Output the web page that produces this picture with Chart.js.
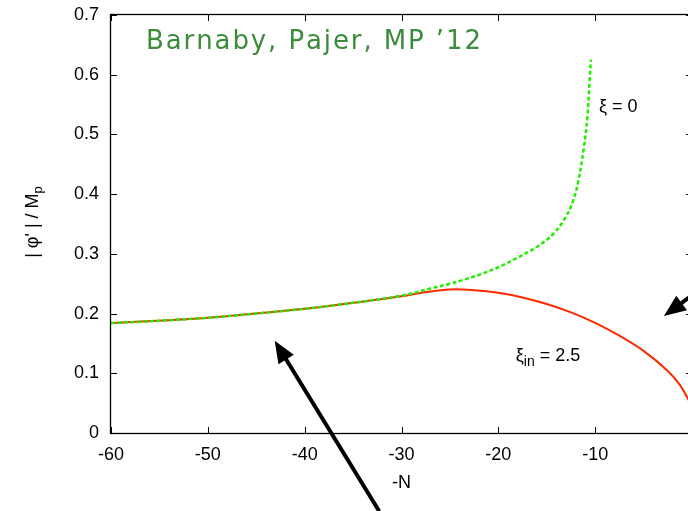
<!DOCTYPE html>
<html>
<head>
<meta charset="utf-8">
<script src="https://cdn.jsdelivr.net/npm/chart.js@4"></script>
<style>
  html, body { margin: 0; padding: 0; background: #fff; overflow: hidden; }
  #wrap { width: 720px; height: 511px; }
</style>
</head>
<body>
<div id="wrap"><canvas id="chart" width="720" height="511"></canvas></div>
<script>
// -N on the x axis, |phi'| / M_p on the y axis
const xTicks = [-60, -50, -40, -30, -20, -10, 0];
const yTicks = [0, 0.1, 0.2, 0.3, 0.4, 0.5, 0.6, 0.7];

// xi = 0 (dashed green)
const xiZeroN = [-60, -55, -50, -45, -40, -35, -30, -27, -25, -23.7, -21.8, -19.8, -18.1, -16.0, -14.3, -13.1, -12.3, -11.79, -11.2, -10.8, -10.59, -10.44];
const xiZeroPhi = [0.184, 0.188, 0.193, 0.200, 0.208, 0.218, 0.230, 0.242, 0.250, 0.256, 0.266, 0.279, 0.293, 0.312, 0.334, 0.360, 0.388, 0.418, 0.474, 0.530, 0.586, 0.625];

// xi_in = 2.5 (solid red)
const xiInN = [-60, -50, -40, -35, -30, -27.5, -25, -22.5, -20, -17.5, -15, -12.5, -10, -7.5, -5, -2.5, -1.25, 0];
const xiInPhi = [0.184, 0.193, 0.208, 0.218, 0.229, 0.236, 0.2405, 0.2392, 0.2348, 0.227, 0.216, 0.202, 0.1845, 0.163, 0.1375, 0.104, 0.0805, 0.045];

const toPoints = (xs, ys) => xs.map((x, i) => ({ x: x, y: ys[i] }));

const tickFont = { family: '"Liberation Sans", Arial, sans-serif', size: 18 };

// text with extra spacing between glyphs
function spacedText(ctx, text, x, y, width) {
    const chars = [...text];
    const natural = chars.reduce((s, c) => s + ctx.measureText(c).width, 0);
    const gap = (width - natural) / (chars.length - 1);
    chars.forEach(c => {
        ctx.fillText(c, x, y);
        x += ctx.measureText(c).width + gap;
    });
}

// frame, inward tick marks, labels and arrows in gnuplot style
const decorations = {
    id: 'decorations',
    afterDatasetsDraw(chart) {
        const ctx = chart.ctx;
        const a = chart.chartArea;
        const xs = chart.scales.x;
        const ys = chart.scales.y;
        ctx.save();

        ctx.strokeStyle = '#000';
        ctx.lineWidth = 1.3;
        ctx.strokeRect(a.left - 0.5, a.top - 0.5, a.right - a.left + 1, a.bottom - a.top + 1);

        ctx.lineWidth = 1;
        const tl = 6;
        xTicks.forEach(v => {
            const px = Math.round(xs.getPixelForValue(v)) + 0.5;
            ctx.beginPath();
            ctx.moveTo(px, a.bottom); ctx.lineTo(px, a.bottom - tl);
            ctx.moveTo(px, a.top); ctx.lineTo(px, a.top + tl);
            ctx.stroke();
        });
        yTicks.forEach(v => {
            const py = Math.round(ys.getPixelForValue(v)) + 0.5;
            ctx.beginPath();
            ctx.moveTo(a.left, py); ctx.lineTo(a.left + tl, py);
            ctx.moveTo(a.right, py); ctx.lineTo(a.right - tl, py);
            ctx.stroke();
        });

        const sans = '"Liberation Sans", Arial, sans-serif';

        // citation
        ctx.fillStyle = '#3d8b3d';
        ctx.font = '26px "DejaVu Sans", sans-serif';
        ctx.textAlign = 'left';
        ctx.textBaseline = 'alphabetic';
        spacedText(ctx, 'Barnaby, Pajer, MP \u201912', a.left + 35, a.top + 34, 335);

        ctx.fillStyle = '#000';

        // curve labels
        ctx.font = '18px ' + sans;
        ctx.fillText('\u03be = 0', xs.getPixelForValue(-9.6), ys.getPixelForValue(0.538));
        let lx = xs.getPixelForValue(-18.2);
        const ly = ys.getPixelForValue(0.12);
        ctx.fillText('\u03be', lx, ly);
        lx += ctx.measureText('\u03be').width;
        ctx.font = '14px ' + sans;
        ctx.fillText('in', lx, ly + 5);
        lx += ctx.measureText('in').width;
        ctx.font = '18px ' + sans;
        ctx.fillText(' = 2.5', lx, ly);

        // x title
        ctx.textAlign = 'center';
        ctx.textBaseline = 'middle';
        ctx.fillText('-N', (a.left + a.right) / 2, 483);

        // y title, rotated, with subscript p
        ctx.save();
        ctx.translate(32, (a.top + a.bottom) / 2 - 2);
        ctx.rotate(-Math.PI / 2);
        ctx.textAlign = 'left';
        ctx.textBaseline = 'alphabetic';
        const main = '| \u03c6\' | / M';
        ctx.font = '18px ' + sans;
        const wMain = ctx.measureText(main).width;
        ctx.font = '13px ' + sans;
        const wSub = ctx.measureText('p').width;
        const x0 = -(wMain + wSub) / 2;
        ctx.font = '18px ' + sans;
        ctx.fillText(main, x0, 6);
        ctx.font = '13px ' + sans;
        ctx.fillText('p', x0 + wMain, 10);
        ctx.restore();

        // arrows
        const arrow = (x1, y1, x2, y2) => {
            const p1 = { x: xs.getPixelForValue(x1), y: ys.getPixelForValue(y1) };
            const p2 = { x: xs.getPixelForValue(x2), y: ys.getPixelForValue(y2) };
            const ang = Math.atan2(p2.y - p1.y, p2.x - p1.x);
            const len = 22, half = 9;
            const bx = p2.x - len * Math.cos(ang), by = p2.y - len * Math.sin(ang);
            ctx.strokeStyle = '#000';
            ctx.lineWidth = 4;
            ctx.beginPath();
            ctx.moveTo(p1.x, p1.y);
            ctx.lineTo(bx + 4 * Math.cos(ang), by + 4 * Math.sin(ang));
            ctx.stroke();
            ctx.beginPath();
            ctx.moveTo(p2.x, p2.y);
            ctx.lineTo(bx + half * Math.sin(ang), by - half * Math.cos(ang));
            ctx.lineTo(bx - half * Math.sin(ang), by + half * Math.cos(ang));
            ctx.closePath();
            ctx.fill();
        };
        arrow(-32.3, -0.131, -43.1, 0.1546);
        arrow(1.2, 0.245, -2.9, 0.196);

        ctx.restore();
    }
};

new Chart(document.getElementById('chart'), {
    type: 'line',
    data: {
        datasets: [{
            label: '\u03be = 0',
            data: toPoints(xiZeroN, xiZeroPhi),
            borderColor: '#22ee00',
            borderWidth: 2.5,
            borderDash: [4, 2.5],
            tension: 0.4,
            pointRadius: 0,
            fill: false
        }, {
            label: '\u03be_in = 2.5',
            data: toPoints(xiInN, xiInPhi),
            borderColor: '#ff2a00',
            borderWidth: 2,
            tension: 0.4,
            pointRadius: 0,
            fill: false
        }]
    },
    options: {
        responsive: false,
        animation: false,
        layout: { padding: { top: 15, right: 28, left: 0, bottom: 0 } },
        plugins: { legend: { display: false }, tooltip: { enabled: false } },
        scales: {
            x: {
                type: 'linear',
                min: -60,
                max: 0,
                afterBuildTicks: s => { s.ticks = xTicks.map(v => ({ value: v })); },
                afterFit: s => { s.height = 78; s.paddingLeft = 0; s.paddingRight = 0; },
                ticks: {
                    color: '#000', font: tickFont, padding: 11, maxRotation: 0,
                    callback: v => (v === 0 ? '' : v)
                },
                grid: { display: false, drawTicks: false },
                border: { display: false }
            },
            y: {
                min: 0,
                max: 0.7,
                afterBuildTicks: s => { s.ticks = yTicks.map(v => ({ value: v })); },
                afterFit: s => { s.width = 111; s.paddingTop = 0; s.paddingBottom = 0; },
                ticks: { color: '#000', font: tickFont, padding: 12 },
                grid: { display: false, drawTicks: false },
                border: { display: false }
            }
        }
    },
    plugins: [decorations]
});
</script>
</body>
</html>
